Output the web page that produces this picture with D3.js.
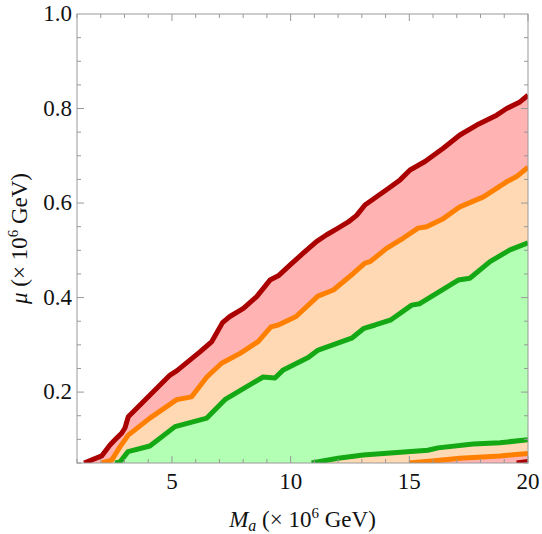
<!doctype html>
<html>
<head>
<meta charset="utf-8">
<title>mu vs Ma</title>
<style>
body { margin: 0; background: #fff; }
svg text { font-family: "Liberation Serif", "Times New Roman", Times, "Nimbus Roman", "DejaVu Serif", serif; fill: #111; }
</style>
<script src="https://cdn.jsdelivr.net/npm/d3@7"></script>
</head>
<body>
<script>
// upper boundaries (x in 10^6 GeV, y in 10^6 GeV)
var redX = [1.30,2.04,2.39,2.60,2.88,3.02,3.16,4.92,5.20,6.18,6.68,7.13,7.44,8.01,8.57,9.13,9.48,9.98,10.53,11.10,11.52,12.00,12.43,12.78,13.13,14.04,14.61,15.03,15.66,16.43,17.13,17.84,18.68,19.10,19.66,20.0];
var redY = [0.050,0.065,0.088,0.099,0.113,0.124,0.148,0.236,0.245,0.285,0.307,0.347,0.360,0.377,0.402,0.437,0.446,0.469,0.494,0.519,0.533,0.547,0.560,0.574,0.596,0.628,0.649,0.670,0.688,0.716,0.744,0.765,0.786,0.800,0.814,0.828];

var orangeX = [2.04,2.46,2.81,3.16,4.07,5.20,5.83,6.47,7.09,7.87,8.63,9.17,9.48,10.23,11.15,11.80,12.64,13.13,13.35,14.04,14.75,15.37,15.73,16.43,17.13,18.12,19.10,19.52,20.0];
var orangeY = [0.050,0.056,0.084,0.109,0.145,0.184,0.190,0.232,0.261,0.282,0.307,0.338,0.342,0.360,0.403,0.416,0.451,0.473,0.476,0.504,0.526,0.547,0.550,0.567,0.592,0.613,0.645,0.656,0.676];

var greenX = [2.60,2.81,3.15,4.07,5.13,6.47,7.23,8.84,9.34,9.69,10.74,11.16,12.57,13.09,13.56,14.23,15.10,15.44,17.06,17.55,18.40,19.24,20.0];
var greenY = [0.050,0.052,0.074,0.086,0.127,0.145,0.184,0.232,0.230,0.247,0.273,0.289,0.314,0.335,0.342,0.353,0.384,0.387,0.437,0.441,0.476,0.501,0.516];

// lower boundaries
var greenLowX = [10.88,12.00,13.06,15.78,16.21,17.69,18.82,20.0];
var greenLowY = [0.050,0.060,0.067,0.077,0.082,0.090,0.093,0.099];
var orangeLowX = [14.99,15.95,17.13,18.82,20.0];
var orangeLowY = [0.050,0.054,0.060,0.065,0.070];
var redLowX = [19.52,20.0];
var redLowY = [0.050,0.053];

var xMajor = [5, 10, 15, 20];
var yMajor = [0.2, 0.4, 0.6, 0.8, 1.0];

var W = 542, H = 534;
var m = {left: 77, right: 14, top: 14, bottom: 71};
var serif = "'Liberation Serif', 'Times New Roman', Times, 'DejaVu Serif', serif";
var fs = 23;

var x = d3.scaleLinear().domain([1, 20]).range([m.left, W - m.right]);
var y = d3.scaleLinear().domain([0.05, 1]).range([H - m.bottom, m.top]);

var svg = d3.select("body").append("svg")
    .attr("width", W)
    .attr("height", H)
    .attr("font-family", serif);

svg.append("clipPath").attr("id", "clip")
  .append("rect")
    .attr("x", x(1)).attr("y", y(1))
    .attr("width", x(20) - x(1)).attr("height", y(0.05) - y(1));

function pts(xs, ys) { return xs.map(function(v, i) { return [v, ys[i]]; }); }

var area = d3.area()
    .x(function(d) { return x(d[0]); })
    .y0(y(0.05))
    .y1(function(d) { return y(d[1]); });
var line = d3.line()
    .x(function(d) { return x(d[0]); })
    .y(function(d) { return y(d[1]); });

var plot = svg.append("g").attr("clip-path", "url(#clip)");

var fills = [
  [redX, redY, "#ffb3b3"],
  [orangeX, orangeY, "#ffd9b3"],
  [greenX, greenY, "#b3ffb3"],
  [greenLowX, greenLowY, "#ffd9b3"],
  [orangeLowX, orangeLowY, "#ffb3b3"]
];
fills.forEach(function(f) {
  plot.append("path")
      .attr("d", area(pts(f[0], f[1])))
      .attr("fill", f[2]);
});

var lines = [
  [redX, redY, "#aa0000"],
  [orangeX, orangeY, "#ff8000"],
  [greenX, greenY, "#14a814"],
  [greenLowX, greenLowY, "#14a814"],
  [orangeLowX, orangeLowY, "#ff8000"],
  [redLowX, redLowY, "#aa0000"]
];
lines.forEach(function(l) {
  plot.append("path")
      .attr("d", line(pts(l[0], l[1])))
      .attr("fill", "none")
      .attr("stroke", l[2])
      .attr("stroke-width", 5)
      .attr("stroke-linejoin", "round");
});

// frame and ticks
var axisColor = "#999";
svg.append("rect")
    .attr("x", x(1)).attr("y", y(1))
    .attr("width", x(20) - x(1)).attr("height", y(0.05) - y(1))
    .attr("fill", "none").attr("stroke", axisColor).attr("stroke-width", 1);

var ticks = svg.append("g").attr("stroke", axisColor).attr("stroke-width", 1);
d3.range(1, 21).forEach(function(v) {
  var len = xMajor.indexOf(v) >= 0 ? 7 : 4;
  ticks.append("line").attr("x1", x(v)).attr("x2", x(v)).attr("y1", y(0.05)).attr("y2", y(0.05) - len);
  ticks.append("line").attr("x1", x(v)).attr("x2", x(v)).attr("y1", y(1)).attr("y2", y(1) + len);
});
d3.range(1, 20).forEach(function(k) {
  var v = k * 0.05;
  var major = k % 4 === 0;
  var len = major ? 7 : 4;
  ticks.append("line").attr("y1", y(v)).attr("y2", y(v)).attr("x1", x(1)).attr("x2", x(1) + len);
  ticks.append("line").attr("y1", y(v)).attr("y2", y(v)).attr("x1", x(20)).attr("x2", x(20) - len);
});

svg.selectAll(".xl").data(xMajor).enter().append("text")
    .attr("x", function(d) { return x(d); })
    .attr("y", y(0.05) + 26)
    .attr("text-anchor", "middle")
    .attr("font-size", fs)
    .text(function(d) { return d; });

svg.selectAll(".yl").data(yMajor).enter().append("text")
    .attr("x", x(1) - 5)
    .attr("y", function(d) { return y(d) + 7; })
    .attr("text-anchor", "end")
    .attr("font-size", fs)
    .text(function(d) { return d.toFixed(1); });

// axis titles
var xt = svg.append("text")
    .attr("x", (x(1) + x(20)) / 2)
    .attr("y", 527)
    .attr("text-anchor", "middle")
    .attr("font-size", fs);
xt.append("tspan").attr("font-style", "italic").text("M");
xt.append("tspan").attr("font-style", "italic").attr("font-size", 16).attr("dy", 4).text("a");
xt.append("tspan").attr("dy", -4).text(" (\u00d7 10");
xt.append("tspan").attr("font-size", 15).attr("dy", -9).text("6");
xt.append("tspan").attr("dy", 9).text(" GeV)");

var yt = svg.append("text")
    .attr("transform", "translate(27," + ((y(0.05) + y(1)) / 2) + ") rotate(-90)")
    .attr("text-anchor", "middle")
    .attr("font-size", fs);
yt.append("tspan").attr("font-style", "italic").text("\u03bc");
yt.append("tspan").text(" (\u00d7 10");
yt.append("tspan").attr("font-size", 15).attr("dy", -9).text("6");
yt.append("tspan").attr("dy", 9).text(" GeV)");
</script>
</body>
</html>
